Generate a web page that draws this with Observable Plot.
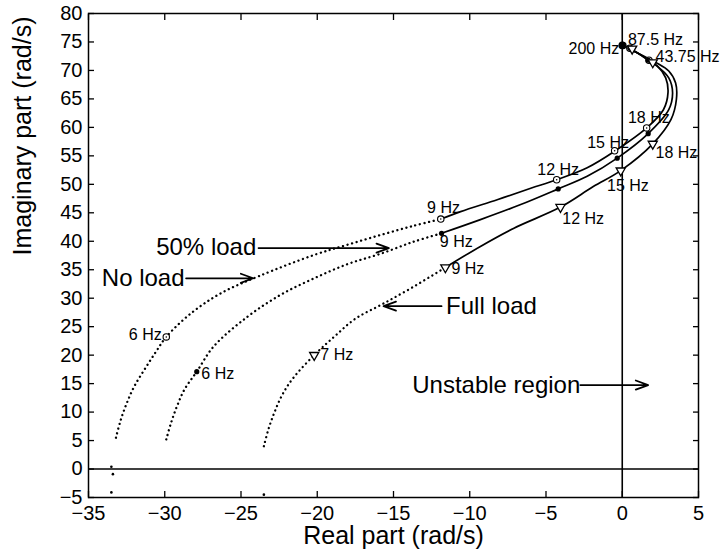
<!DOCTYPE html>
<html><head><meta charset="utf-8">
<script src="https://cdn.jsdelivr.net/npm/d3@7"></script>
<script src="https://cdn.jsdelivr.net/npm/@observablehq/plot@0.6"></script>
<style>
body{margin:0;background:#fff;}
#chart svg{display:block;}
</style></head><body><div id="chart"></div>
<script>
// ---- tick values ----
const xTicks = [-35, -30, -25, -20, -15, -10, -5, 0, 5];
const yTicks = [-5, 0, 5, 10, 15, 20, 25, 30, 35, 40, 45, 50, 55, 60, 65, 70, 75, 80];

// ---- No load locus (real, imag) ----
const noLoadLow = [[-33.2,5.5],[-32.9,8.5],[-32.5,11.5],[-32.0,14.5],[-31.3,17.6],[-30.6,20.5],[-29.9,23.2],[-28.3,27.3],[-26.3,30.9],[-23.8,33.9],[-20.2,37.6],[-18.0,39.4],[-15.85,41.1],[-13.7,42.7],[-11.9,43.9]];
const noLoadHigh = [[-11.9,43.9],[-10.6,45.2],[-8.2,47.3],[-6.0,49.3],[-4.3,50.8],[-2.3,52.9],[-0.5,55.8],[1.6,59.9],[2.7,63.1],[3.0,66.1],[2.85,68.7],[2.3,70.8],[1.75,71.8],[0.98,73.1],[0.04,74.4]];
const noLoadMarks = [[-29.9,23.2],[-11.9,43.9],[-4.3,50.8],[-0.5,55.9],[1.6,59.9],[1.75,71.8],[0.5,73.9],[0.04,74.4]];

// ---- 50% load locus ----
const halfLoadLow = [[-29.9,5.2],[-29.6,8.0],[-29.2,11.0],[-28.7,14.0],[-27.9,17.1],[-26.8,21.5],[-24.6,26.7],[-22.4,30.6],[-20.2,33.5],[-18.0,36.0],[-15.85,37.8],[-13.7,39.9],[-11.85,41.4]];
const halfLoadHigh = [[-11.85,41.4],[-9.3,43.8],[-6.7,46.4],[-4.2,49.2],[-2.3,51.4],[-0.33,54.6],[1.7,58.9],[3.05,63.1],[3.3,66.1],[3.05,68.7],[2.4,70.5],[1.7,71.8],[0.98,73.1],[0.04,74.4]];
const halfLoadMarks = [[-27.9,17.1],[-11.85,41.4],[-4.2,49.2],[-0.33,54.6],[1.7,58.9],[1.7,71.8],[0.5,73.9],[0.04,74.4]];

// ---- Full load locus ----
const fullLoadLow = [[-23.5,4.0],[-23.2,7.0],[-22.8,10.0],[-22.3,13.0],[-21.6,15.9],[-20.2,20.0],[-18.9,23.2],[-17.5,26.4],[-15.7,29.0],[-13.7,32.0],[-11.6,35.4]];
const fullLoadHigh = [[-11.6,35.4],[-9.3,39.1],[-7.1,42.3],[-4.05,46.0],[-1.9,49.6],[-0.1,52.4],[2.0,57.1],[3.2,61.4],[3.55,64.9],[3.5,67.8],[3.05,69.9],[2.2,71.4],[1.2,72.8],[0.04,74.4]];
const fullLoadMarks = [[-20.2,20.0],[-11.6,35.4],[-4.05,46.0],[-0.1,52.4],[2.0,57.1],[2.0,71.4],[0.65,73.8]];

// isolated low-frequency points near the real axis
const axisPoints = [[-33.5,0.4],[-33.4,-0.9],[-33.5,-4.1],[-23.5,-4.5]];
const endPoint = [[0.0,74.4]];

// ---- frequency labels ----
const freqText   = ["200 Hz","87.5 Hz","43.75 Hz","18 Hz","15 Hz","18 Hz","15 Hz","12 Hz","12 Hz","9 Hz","9 Hz","9 Hz","6 Hz","6 Hz","7 Hz"];
const freqX      = [-0.2, 0.37, 2.18, 0.37, -2.3, 2.18, -1.0, -5.57, -3.93, -12.8, -11.96, -11.2, -30.2, -27.6, -19.8];
const freqY      = [73.8, 75.4, 72.4, 61.6, 57.3, 55.5, 49.7, 52.6, 44.0, 45.8, 39.9, 35.2, 23.5, 16.7, 20.0];
const freqAnchor = ["end","start","start","start","start","start","start","start","start","start","start","start","end","start","start"];

// ---- curve name labels and arrows ----
const nameText   = ["No load", "50% load", "Full load", "Unstable region"];
const nameX      = [-28.7, -24.0, -11.55, -2.75];
const nameY      = [33.5, 38.9, 28.6, 14.75];
const nameAnchor = ["end", "end", "start", "end"];
const arrowX1 = [-28.6, -23.85, -11.85, -2.75];
const arrowX2 = [-24.2, -15.3, -15.65, 1.7];
const arrowY  = [33.5, 38.8, 28.6, 14.75];

const toObj = a => a.map(([x, y]) => ({x, y}));
const freqLabels = freqText.map((t, i) => ({t, x: freqX[i], y: freqY[i], a: freqAnchor[i]}));
const names = nameText.map((t, i) => ({t, x: nameX[i], y: nameY[i], a: nameAnchor[i]}));
const arrows = arrowX1.map((x1, i) => ({x1, x2: arrowX2[i], y: arrowY[i]}));

const dotted = {x: "x", y: "y", curve: "catmull-rom", stroke: "black", strokeWidth: 2.3, strokeDasharray: "0.1,4.6", strokeLinecap: "round"};
const solid = {x: "x", y: "y", curve: "catmull-rom", stroke: "black", strokeWidth: 1.7};
const font = "'Liberation Sans', Arial, Helvetica, sans-serif";

const textBy = (rows, anchor, size) =>
  Plot.text(rows.filter(d => d.a === anchor), {x: "x", y: "y", text: "t", textAnchor: anchor, fontSize: size});

const chart = Plot.plot({
  width: 723,
  height: 558,
  marginLeft: 88,
  marginRight: 25,
  marginTop: 13,
  marginBottom: 61,
  style: {fontFamily: font, background: "#fff", color: "black"},
  x: {domain: [-35, 5]},
  y: {domain: [-5, 80]},
  marks: [
    Plot.ruleX([0], {stroke: "black", strokeWidth: 1.6}),
    Plot.ruleY([0], {stroke: "black", strokeWidth: 1.6}),
    Plot.frame({stroke: "black", strokeWidth: 1.5}),
    Plot.axisX({ticks: xTicks, tickSize: -6, tickPadding: 14, fontSize: 20, label: null, strokeWidth: 1.3}),
    Plot.axisX({ticks: xTicks, anchor: "top", tickSize: -6, tickFormat: () => "", label: null, strokeWidth: 1.3}),
    Plot.axisY({ticks: yTicks, tickSize: -6, tickPadding: 12, fontSize: 20, label: null, strokeWidth: 1.3}),
    Plot.axisY({ticks: yTicks, anchor: "right", tickSize: -6, tickFormat: () => "", label: null, strokeWidth: 1.3}),
    Plot.text(["Real part (rad/s)"], {frameAnchor: "bottom", dy: 46, fontSize: 25}),
    Plot.text(["Imaginary part (rad/s)"], {frameAnchor: "left", dx: -66, rotate: -90, fontSize: 25}),
    Plot.line(toObj(noLoadLow), dotted),
    Plot.line(toObj(halfLoadLow), dotted),
    Plot.line(toObj(fullLoadLow), dotted),
    Plot.line(toObj(noLoadHigh), solid),
    Plot.line(toObj(halfLoadHigh), solid),
    Plot.line(toObj(fullLoadHigh), solid),
    Plot.dot(toObj(axisPoints), {x: "x", y: "y", r: 1.3, fill: "black"}),
    Plot.dot(toObj(noLoadMarks), {x: "x", y: "y", r: 3.2, stroke: "black", strokeWidth: 1.1, fill: "white"}),
    Plot.dot(toObj(noLoadMarks), {x: "x", y: "y", r: 0.8, fill: "black"}),
    Plot.dot(toObj(halfLoadMarks), {x: "x", y: "y", r: 2.6, fill: "black"}),
    Plot.dot(toObj(fullLoadMarks), {x: "x", y: "y", symbol: "triangle", rotate: 180, r: 3.4, stroke: "black", strokeWidth: 1.3, fill: "white"}),
    Plot.dot(toObj(endPoint), {x: "x", y: "y", r: 3.8, fill: "black"}),
    textBy(freqLabels, "start", 16),
    textBy(freqLabels, "end", 16),
    textBy(names, "start", 24),
    textBy(names, "end", 24),
    Plot.arrow(arrows, {x1: "x1", x2: "x2", y1: "y", y2: "y", stroke: "black", strokeWidth: 1.8, headLength: 11, headAngle: 40})
  ]
});
document.getElementById("chart").append(chart);
</script></body></html>
